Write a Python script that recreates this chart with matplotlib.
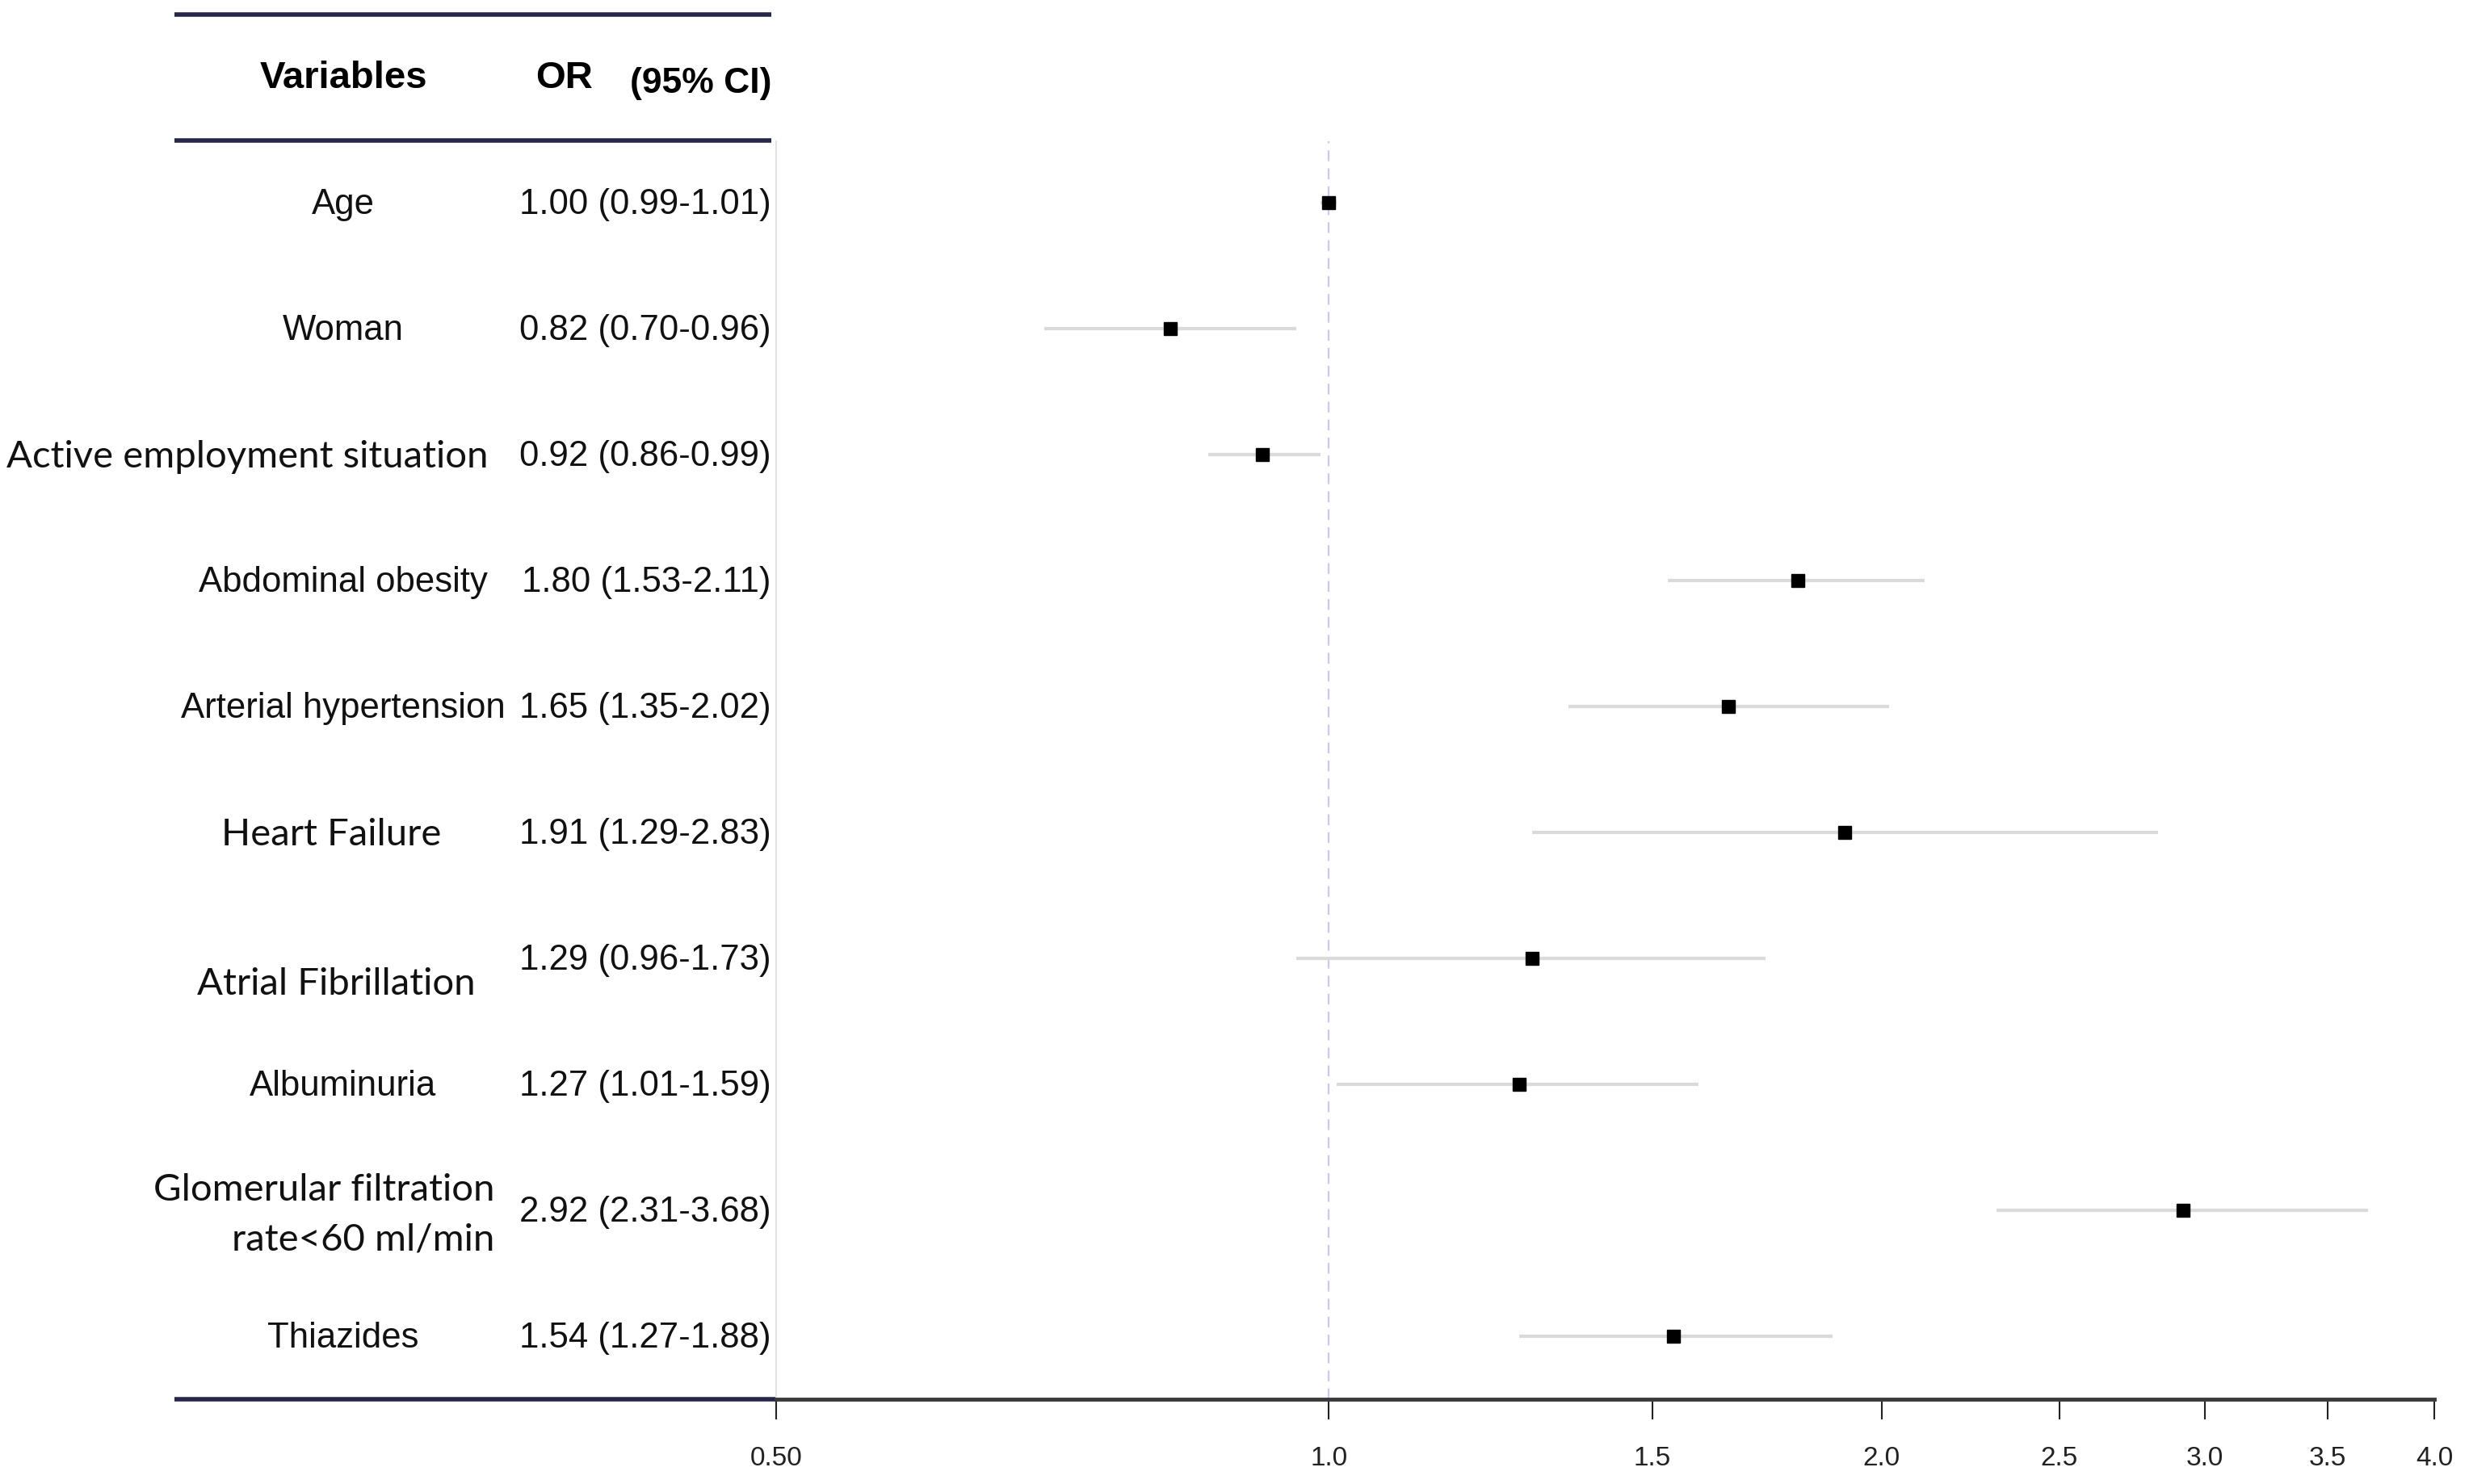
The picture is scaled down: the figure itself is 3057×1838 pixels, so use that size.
import matplotlib
matplotlib.use('Agg')
import matplotlib.pyplot as plt
from matplotlib.ticker import FixedLocator, FixedFormatter, NullLocator

# ---------------- data ----------------
variables = ["Age", "Woman", "Active employment situation", "Abdominal obesity",
             "Arterial hypertension", "Heart Failure", "Atrial Fibrillation",
             "Albuminuria", "Glomerular filtration\nrate<60 ml/min", "Thiazides"]
or_vals = [1.00, 0.82, 0.92, 1.80, 1.65, 1.91, 1.29, 1.27, 2.92, 1.54]
ci_low = [0.99, 0.70, 0.86, 1.53, 1.35, 1.29, 0.96, 1.01, 2.31, 1.27]
ci_high = [1.01, 0.96, 0.99, 2.11, 2.02, 2.83, 1.73, 1.59, 3.68, 1.88]
tick_vals = [0.5, 1.0, 1.5, 2.0, 2.5, 3.0, 3.5, 4.0]
tick_labels = ["0.50", "1.0", "1.5", "2.0", "2.5", "3.0", "3.5", "4.0"]

# ---------------- layout (pixels of a 3057x1838 canvas) ----------------
W, H = 3057, 1838
ROW0, ROWSTEP = 251.5, 156.0          # pixel y of first row, row spacing
AX_LEFT, AX_RIGHT = 961, 3014
AX_TOP, AX_BOTTOM = 175, 1733

ARIAL = ['Liberation Sans', 'DejaVu Sans']
CALIB = ['Lato', 'DejaVu Sans']
# per-label placement: (x pixel, ha, row offset, family, size)
label_style = [
    (425, 'center', 0.0, ARIAL, 31.5),
    (425, 'center', 0.0, ARIAL, 31.5),
    (604, 'right', 0.0, CALIB, 34),
    (604, 'right', 0.0, ARIAL, 31.5),
    (626, 'right', 0.0, ARIAL, 31.5),
    (410, 'center', 0.0, CALIB, 34),
    (416, 'center', 0.19, CALIB, 34),
    (425, 'center', 0.0, ARIAL, 31.5),
    (612, 'right', 0.02, CALIB, 34),
    (425, 'center', 0.0, ARIAL, 31.5),
]

def py(pix):
    return (pix - ROW0) / ROWSTEP

fig = plt.figure(figsize=(W / 100, H / 100), dpi=100)
fig.patch.set_facecolor('white')

# table axes covering the whole figure in pixel-x / row-y units
axt = fig.add_axes([0, 0, 1, 1])
axt.set_xlim(0, W)
axt.set_ylim(py(H), py(0))
axt.axis('off')

# main forest plot axes
ax = fig.add_axes([AX_LEFT / W, 1 - AX_BOTTOM / H,
                   (AX_RIGHT - AX_LEFT) / W, (AX_BOTTOM - AX_TOP) / H])
ax.set_xscale('log')
ax.set_xlim(tick_vals[0], tick_vals[-1])
ax.set_ylim(py(AX_BOTTOM), py(AX_TOP))
ax.set_facecolor('none')

rows = list(range(len(variables)))

# reference line
ax.axvline(1.0, color='#c9c9f2', lw=1.6, ls=(0, (6, 4)), zorder=1)
# confidence intervals
ax.hlines(rows, ci_low, ci_high, color='#dadada', lw=3.0, zorder=2)
# point estimates
ax.plot(or_vals, rows, ls='none', marker='s', ms=11.5, color='black', zorder=3)

# spines / ticks
for s in ['top', 'right']:
    ax.spines[s].set_visible(False)
ax.spines['left'].set_color('#e2e2e2')
ax.spines['left'].set_linewidth(1.5)
ax.spines['bottom'].set_color('#3a3a3a')
ax.spines['bottom'].set_linewidth(3.5)
ax.yaxis.set_major_locator(NullLocator())
ax.yaxis.set_minor_locator(NullLocator())
ax.xaxis.set_major_locator(FixedLocator(tick_vals))
ax.xaxis.set_major_formatter(FixedFormatter(tick_labels))
ax.xaxis.set_minor_locator(NullLocator())
ax.tick_params(axis='x', length=18, width=1.5, color='#222222', pad=24,
               labelsize=24, labelcolor='#222222')
for lab in ax.get_xticklabels():
    lab.set_family(ARIAL)

# table lines
navy = '#26264a'
axt.plot([216, 955], [py(17.5)] * 2, color=navy, lw=4.0, solid_capstyle='butt')
axt.plot([216, 955], [py(173.5)] * 2, color=navy, lw=4.0, solid_capstyle='butt')
axt.plot([216, AX_LEFT], [py(AX_BOTTOM)] * 2, color=navy, lw=4.0, solid_capstyle='butt')

# header
hy = py(97)
axt.text(425, hy, "Variables", ha='center', va='center', fontsize=34,
         fontweight='bold', family=ARIAL)
axt.text(699, hy, "OR", ha='center', va='center', fontsize=34,
         fontweight='bold', family=ARIAL)
axt.text(955, hy + 0.04, "(95% CI)", ha='right', va='center', fontsize=32,
         fontweight='bold', family=ARIAL)

# row labels and OR text
for i, name in enumerate(variables):
    x, ha, dy, fam, fs = label_style[i]
    axt.text(x, i + dy + 0.015, name, ha=ha, va='center', fontsize=fs, family=fam,
             multialignment='right', linespacing=1.58, color='#111111')
    txt = f"{or_vals[i]:.2f} ({ci_low[i]:.2f}-{ci_high[i]:.2f})"
    axt.text(955, i + 0.015, txt, ha='right', va='center', fontsize=31.5,
             family=ARIAL, color='#111111')

fig.savefig('out.png', dpi=100, facecolor='white')
